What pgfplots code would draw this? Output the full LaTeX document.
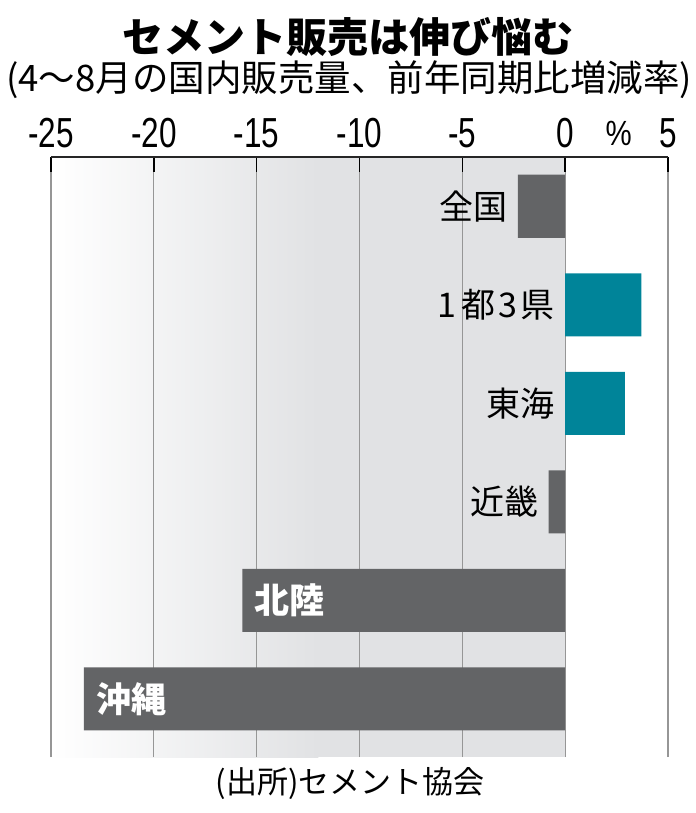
\documentclass[border=0pt]{standalone}
\usepackage{fontspec}
\setmainfont{Noto Sans CJK JP}
\newfontfamily\numfont{Liberation Sans}
\usepackage{pgfplots}
\pgfplotsset{compat=1.18}
\usepackage{pgfplotstable}
\definecolor{barg}{RGB}{99,100,102}
\definecolor{tealc}{RGB}{0,132,153}
\definecolor{bgg}{RGB}{225,226,228}
\definecolor{gridg}{RGB}{150,150,150}
\newcommand\ittosan{1\kern5bp 都\kern3bp 3\kern4bp 県}

\pgfplotstableread{
y x
5 -2.3
2 -0.8
1 -15.7
0 -23.4
}\negdata
\pgfplotstableread{
y x
4 3.7
3 2.9
}\posdata
\pgfplotstableread{
y lx label
5 -2.3 全国
4 0 \ittosan
3 0 東海
2 -0.8 近畿
}\outerlabels
\pgfplotstableread{
y x label
1 -15.7 北陸
0 -23.4 沖縄
}\innerlabels

\pgfplotsset{common/.style={
  at={(51bp,-157bp)}, anchor=north west,
  width=617bp, height=600bp, scale only axis,
  xmin=-25, xmax=5, ymin=-0.59, ymax=5.5}}

\begin{document}
\begin{tikzpicture}
\useasboundingbox (0bp,0bp) rectangle (696bp,-813bp);
\node[font=\fontsize{41bp}{41bp}\selectfont\bfseries] at (348bp,-37bp) {セメント販売は伸び悩む};
\node[font=\fontsize{36.5bp}{36.5bp}\selectfont] at (349bp,-80bp) {(4～8月の国内販売量、前年同期比増減率)};
\node[font=\fontsize{31bp}{31bp}\selectfont] at (350bp,-783bp) {(出所)セメント協会};
\begin{axis}[common, hide axis]
\fill[left color=white, right color=bgg] (axis cs:-25,-0.59) rectangle (axis cs:-12,5.5);
\fill[bgg] (axis cs:-12.05,-0.59) rectangle (axis cs:0,5.5);
\end{axis}
\begin{axis}[
  common, clip=false,
  xtick={-25,-20,-15,-10,-5,0,5},
  xticklabels={-25,-20,-15,-10,-5,0,5},
  ytick=\empty,
  xticklabel pos=right,
  xtick pos=right,
  tick align=inside,
  major tick length=15bp,
  xmajorgrids,
  grid style={gridg, line width=1.2bp},
  axis line style={draw=none},
  x tick style={black, line width=1.5bp},
  xticklabel style={font=\fontsize{42bp}{42bp}\selectfont\numfont, xscale=0.75, yshift=6bp},
  bar width=0.64, bar shift=0pt,
]
\addplot[xbar, fill=barg, draw=none] table[x=x, y=y] {\negdata};
\addplot[xbar, fill=tealc, draw=none] table[x=x, y=y] {\posdata};
\addplot[draw=none, mark=none, nodes near coords, point meta=explicit symbolic,
  nodes near coords style={anchor=east, inner sep=0pt, xshift=-10bp, font=\fontsize{34bp}{34bp}\selectfont}]
  table[x=lx, y=y, meta=label] {\outerlabels};
\addplot[draw=none, mark=none, nodes near coords, point meta=explicit symbolic,
  nodes near coords style={anchor=west, inner sep=0pt, xshift=12bp, text=white, font=\fontsize{35bp}{35bp}\selectfont\bfseries}]
  table[x=x, y=y, meta=label] {\innerlabels};
\draw[black!85, line width=1.5bp] (axis cs:-25,5.5) -- (axis cs:5,5.5);
\node[font=\fontsize{35bp}{35bp}\selectfont\numfont, xscale=0.84, anchor=base, yshift=12bp] at (axis cs:2.6,5.5) {\%};
\end{axis}
\end{tikzpicture}
\end{document}
